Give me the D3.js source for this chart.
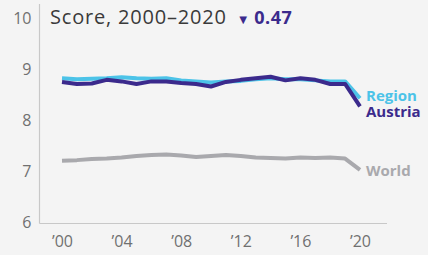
<!DOCTYPE html>
<html>
<head>
<meta charset="utf-8">
<script src="https://cdn.jsdelivr.net/npm/d3@7"></script>
<style>
  body { margin: 0; background: #f4f4f4; }
  svg { display: block; font-family: "Open Sans", Lato, sans-serif; }
</style>
</head>
<body>
<div class="plot"></div>
<script>
// DATA
var years = d3.range(2000, 2021);
var region  = [8.82, 8.80, 8.81, 8.82, 8.84, 8.82, 8.81, 8.82, 8.78, 8.76, 8.74,
               8.76, 8.77, 8.80, 8.82, 8.80, 8.80, 8.78, 8.76, 8.76, 8.43];
var austria = [8.75, 8.71, 8.72, 8.79, 8.76, 8.71, 8.76, 8.76, 8.73, 8.71, 8.66,
               8.75, 8.79, 8.82, 8.85, 8.78, 8.82, 8.79, 8.71, 8.71, 8.27];
var world   = [7.21, 7.22, 7.24, 7.25, 7.27, 7.30, 7.32, 7.33, 7.31, 7.28, 7.30,
               7.32, 7.30, 7.27, 7.26, 7.25, 7.27, 7.26, 7.27, 7.25, 7.03];
var yTicks = [6, 7, 8, 9, 10];
var xTicks = [2000, 2004, 2008, 2012, 2016, 2020];
var title = "Score, 2000\u20132020";
var change = "0.47";

var w = 428;
var h = 255;

var svg = d3.select(".plot").append("svg").attr("width", w).attr("height", h);

// SCALES
var xScale = d3.scaleLinear().domain([2000, 2020]).range([62, 360]);
var yScale = d3.scaleLinear().domain([6, 10]).range([222.5, 18]);

// AXES
var yAxis = d3.axisLeft(yScale).tickValues(yTicks).tickSize(0).tickPadding(8)
  .tickFormat(d3.format("d"));
var xAxis = d3.axisBottom(xScale).tickValues(xTicks).tickSize(0).tickPadding(12)
  .tickFormat(function (d) { return "\u2019" + String(d).slice(2); });

var gy = svg.append("g")
  .attr("transform", "translate(39.5,0)")
  .call(yAxis);
gy.select(".domain").remove();

var gx = svg.append("g")
  .attr("transform", "translate(0,223.5)")
  .call(xAxis);
gx.select(".domain").remove();

svg.selectAll(".tick text")
  .attr("fill", "#707070")
  .attr("font-size", "16px")
  .attr("font-family", "'Open Sans', sans-serif");

// axis lines
svg.append("line")
  .attr("x1", 39.5).attr("x2", 39.5).attr("y1", 4).attr("y2", 223.5)
  .attr("stroke", "#c8c8c8").attr("stroke-width", 1.2);
svg.append("line")
  .attr("x1", 39.5).attr("x2", 387).attr("y1", 223.5).attr("y2", 223.5)
  .attr("stroke", "#c8c8c8").attr("stroke-width", 1.2);

// LINES
var line = d3.line()
  .x(function (d, i) { return xScale(years[i]); })
  .y(function (d) { return yScale(d); });

var series = [
  { name: "World", values: world, color: "#a9a9ad", dy: 6 },
  { name: "Region", values: region, color: "#4cc3e8", dy: 2.5 },
  { name: "Austria", values: austria, color: "#3b2a8c", dy: 11 }
];

svg.selectAll(".series")
  .data(series)
  .enter()
  .append("path")
  .attr("class", "series")
  .attr("d", function (d) { return line(d.values); })
  .attr("fill", "none")
  .attr("stroke", function (d) { return d.color; })
  .attr("stroke-width", 4)
  .attr("stroke-linejoin", "round");

svg.selectAll(".label")
  .data(series)
  .enter()
  .append("text")
  .attr("class", "label")
  .attr("x", xScale(2020) + 6)
  .attr("y", function (d) { return yScale(d.values[d.values.length - 1]) + d.dy; })
  .attr("fill", function (d) { return d.color; })
  .attr("font-size", "15px")
  .attr("font-weight", 700)
  .text(function (d) { return d.name; });

// TITLE
var t = svg.append("text")
  .attr("x", 50)
  .attr("y", 24)
  .attr("font-size", "20px")
  .attr("letter-spacing", "0.8px")
  .attr("fill", "#3a3a3a");
t.append("tspan").text(title);
t.append("tspan")
  .attr("dx", 10)
  .attr("fill", "#3b2a8c")
  .attr("font-size", "13px")
  .text("\u25BC");
t.append("tspan")
  .attr("dx", 4)
  .attr("fill", "#3b2a8c")
  .attr("font-weight", 700)
  .attr("font-size", "18px")
  .attr("letter-spacing", "0.5px")
  .text(change);
</script>
</body>
</html>
